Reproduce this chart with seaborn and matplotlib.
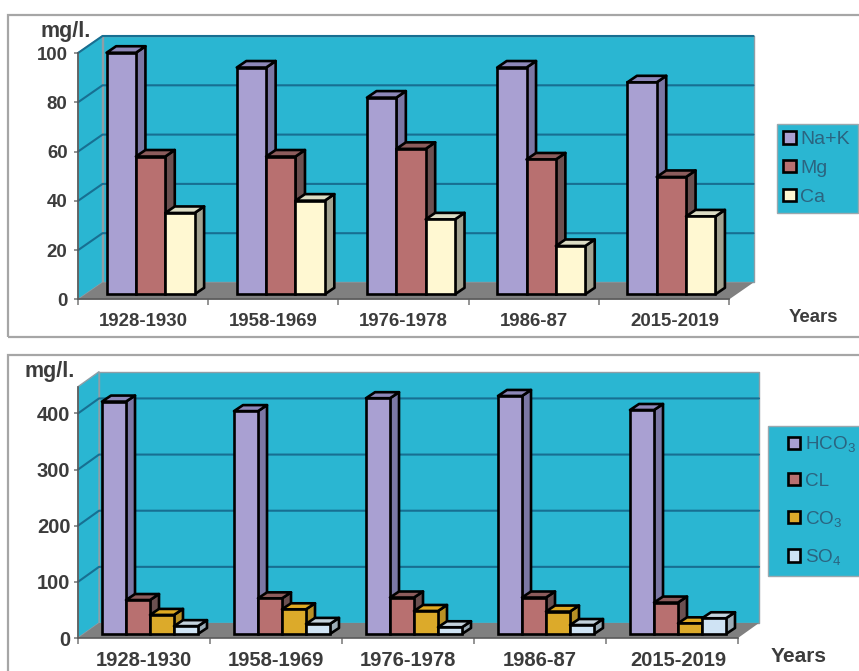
import matplotlib
matplotlib.use("Agg")
import matplotlib.pyplot as plt
import pandas as pd
import seaborn as sns
from matplotlib.legend_handler import HandlerPatch
from matplotlib.patches import Patch, Polygon, Rectangle

periods = ["1928-1930", "1958-1969", "1976-1978", "1986-87", "2015-2019"]

na_k = [98, 92, 79.8, 92, 86]
mg = [55.9, 55.9, 59, 54.7, 47.6]
ca = [33, 38, 30.4, 19.6, 31.6]

hco3 = [414, 397, 420, 424, 399]
cl = [60.5, 63.5, 65, 65, 56]
co3 = [34, 44, 41, 40, 19]
so4 = [14, 18, 12, 16, 28]

cation_names = ["Na+K", "Mg", "Ca"]
anion_names = ["HCO$_3$", "CL", "CO$_3$", "SO$_4$"]

# (front, side, top) shades for each series
PURPLE = ("#a9a0d2", "#7b77a4", "#8d87b8")
RED = ("#b87070", "#6b5050", "#8c5c5c")
CREAM = ("#fff8d2", "#a2a290", "#dcdcc4")
GOLD = ("#dcaa2a", "#b89024", "#e0aa22")
ICE = ("#cfe3f4", "#9cacb6", "#c4d2dc")

WALL = "#2ab6d2"
FLOOR = "#808080"
GRID = "#176f92"
TEXT = "#3c3c3c"
LEGEND_TEXT = "#2b6480"
EDGE_LW = 1.9
W, H = 859, 671

sns.set_theme(style="white")
plt.rcParams["font.family"] = ["Liberation Sans", "DejaVu Sans"]
plt.rcParams["mathtext.default"] = "regular"

fig = plt.figure(figsize=(W / 100, H / 100), dpi=100, facecolor="white")


def fx(px):
    return px / W


def fy(py):
    return 1 - py / H


def frame(x0, y0, x1, y1):
    fig.add_artist(Rectangle((fx(x0), fy(y1)), fx(x1 - x0), (y1 - y0) / H,
                             transform=fig.transFigure, facecolor="none",
                             edgecolor="#a6a6a6", linewidth=1.6))


def square_key(legend, orig_handle, xdescent, ydescent, width, height, fontsize):
    # square swatch pushed to the right end of the handle area
    return Rectangle((width - height - xdescent, -ydescent), height, height)


def panel(series, names, shades, box, ymax, yticks, depth, bar_depth, bar_shift,
          width, tick_size, ypad, last_shift, leg_box, leg_size, leg_space, leg_pad,
          leg_handle, leg_textpad):
    left, top, right, bottom = box
    ax = fig.add_axes([fx(left), fy(bottom), fx(right - left), (bottom - top) / H])
    ax.patch.set_visible(False)

    df = pd.DataFrame({"period": periods * len(names),
                       "element": [n for n in names for _ in periods],
                       "value": [v for s in series for v in s]})
    sns.barplot(data=df, x="period", y="value", hue="element", hue_order=names,
                palette=[s[0] for s in shades], width=width, gap=0, dodge=True,
                saturation=1, edgecolor="black", linewidth=EDGE_LW, legend=False,
                errorbar=None, ax=ax)
    ax.set_xlim(-0.5, 4.5)
    ax.set_ylim(0, ymax)

    # the front faces, left to right, before anything else joins the patch list
    bars = sorted(ax.patches, key=lambda p: p.get_x())

    # pixel lengths expressed in data units
    ux = 5 / (right - left)
    uy = ymax / (bottom - top)
    dx, dy = depth[0] * ux, depth[1] * uy
    bx, by = bar_depth[0] * ux, bar_depth[1] * uy
    sx, sy = bar_shift[0] * ux, bar_shift[1] * uy
    x0, x1 = -0.5, 4.5

    def poly(points, face, edge="none", lw=0.0, z=1.0):
        ax.add_patch(Polygon(points, closed=True, facecolor=face, edgecolor=edge,
                             linewidth=lw, zorder=z, clip_on=False, joinstyle="round"))

    # box walls and floor behind the bars
    poly([(x0 + dx, dy), (x1 + dx, dy), (x1 + dx, ymax + dy), (x0 + dx, ymax + dy)],
         WALL, "#8f9ea6", 1.0, 0.5)
    poly([(x0, 0), (x0 + dx, dy), (x0 + dx, ymax + dy), (x0, ymax)], WALL, "#8f9ea6", 1.0, 0.6)
    poly([(x0, 0), (x1, 0), (x1 + dx, dy), (x0 + dx, dy)], FLOOR, z=0.7)
    for v in yticks[1:]:
        ax.plot([x0, x0 + dx, x1 + dx], [v, v + dy, v + dy], color=GRID, lw=1.5,
                zorder=0.8, clip_on=False)

    # shift each front face onto the floor and extrude its side and top
    n = len(names)
    for i, bar in enumerate(bars):
        shade = shades[i % n]
        z = 2 + i * 0.01
        xa = bar.get_x() + sx
        xb = xa + bar.get_width()
        h = bar.get_height()
        ya = sy
        yb = sy + h
        bar.set_x(xa)
        bar.set_y(ya)
        bar.set_zorder(z + 0.003)
        bar.set_clip_on(False)
        poly([(xb, ya), (xb + bx, ya + by), (xb + bx, yb + by), (xb, yb)],
             shade[1], "black", EDGE_LW, z)
        poly([(xa, yb), (xb, yb), (xb + bx, yb + by), (xa + bx, yb + by)],
             shade[2], "black", EDGE_LW, z + 0.001)

    # axes: boundary ticks along x, category labels between them
    sns.despine(ax=ax, top=True, right=True)
    for side in ("left", "bottom"):
        ax.spines[side].set_color("#5a5a5a")
        ax.spines[side].set_linewidth(1.2)
        ax.spines[side].set_zorder(1.5)
    ax.set_xlabel("")
    ax.set_ylabel("")
    ax.set_xticks([0, 1, 2, 3, 4 + last_shift], periods)
    ax.set_xticks([x0 + k for k in range(6)], minor=True)
    ax.tick_params(axis="x", which="major", length=0, pad=9.5, labelsize=tick_size,
                   labelcolor=TEXT)
    ax.tick_params(axis="x", which="minor", length=4, width=1.1, color="#777777", bottom=True)
    ax.set_yticks(yticks)
    ax.tick_params(axis="y", length=3, width=1.1, color="#777777", left=True,
                   pad=ypad, labelsize=tick_size, labelcolor=TEXT)
    for label in ax.get_xticklabels() + ax.get_yticklabels():
        label.set_fontweight("bold")

    # legend box
    lx0, ly0, lx1, ly1 = leg_box
    handles = [Patch(facecolor=s[0], edgecolor="black", linewidth=EDGE_LW) for s in shades]
    leg = ax.legend(handles, names, loc="upper left",
                    bbox_to_anchor=(fx(lx0), fy(ly1), fx(lx1 - lx0), (ly1 - ly0) / H),
                    bbox_transform=fig.transFigure, borderaxespad=0, mode="expand",
                    facecolor=WALL, edgecolor="#9aa8ae", framealpha=1, fancybox=False,
                    fontsize=leg_size, labelcolor=LEGEND_TEXT, handlelength=leg_handle,
                    handleheight=0.62, handletextpad=leg_textpad, labelspacing=leg_space,
                    borderpad=leg_pad, handler_map={Patch: HandlerPatch(patch_func=square_key)})
    leg.get_frame().set_linewidth(1.0)
    return ax


frame(8, 14.5, W + 5, 337)
frame(8, 354.5, W + 5, H + 5)

panel([na_k, mg, ca], cation_names, [PURPLE, RED, CREAM],
      box=(78, 53, 729, 299.5), ymax=100, yticks=[0, 20, 40, 60, 80, 100],
      depth=(24.5, 17), bar_depth=(9.5, 6.5), bar_shift=(7.5, 5.2), width=0.676,
      tick_size=13.4, ypad=4.5, last_shift=0.085,
      leg_box=(777, 124, 858, 210), leg_size=14, leg_space=0.6, leg_pad=0.36,
      leg_handle=0.62, leg_textpad=0.2)

panel([hco3, cl, co3, so4], anion_names, [PURPLE, RED, GOLD, ICE],
      box=(78, 386.7, 738, 638), ymax=447.6, yticks=[0, 100, 200, 300, 400],
      depth=(21, 15), bar_depth=(9, 6), bar_shift=(6, 4), width=0.727,
      tick_size=14.5, ypad=2.5, last_shift=0.045,
      leg_box=(768, 426, 862, 577), leg_size=13.6, leg_space=0.98, leg_pad=0.45,
      leg_handle=1.25, leg_textpad=0.28)

for x, y, s, size in [(40, 31, "mg/l.", 15.5), (25, 372, "mg/l.", 15.5)]:
    fig.text(fx(x), fy(y), s, fontsize=size, fontweight="bold", color=TEXT, va="center")
fig.text(fx(813), fy(318), "Years", fontsize=13.4, fontweight="bold", color=TEXT,
         ha="center", va="center")
fig.text(fx(799), fy(656), "Years", fontsize=15, fontweight="bold", color=TEXT,
         ha="center", va="center")

fig.savefig("out.png", dpi=100, facecolor="white")
